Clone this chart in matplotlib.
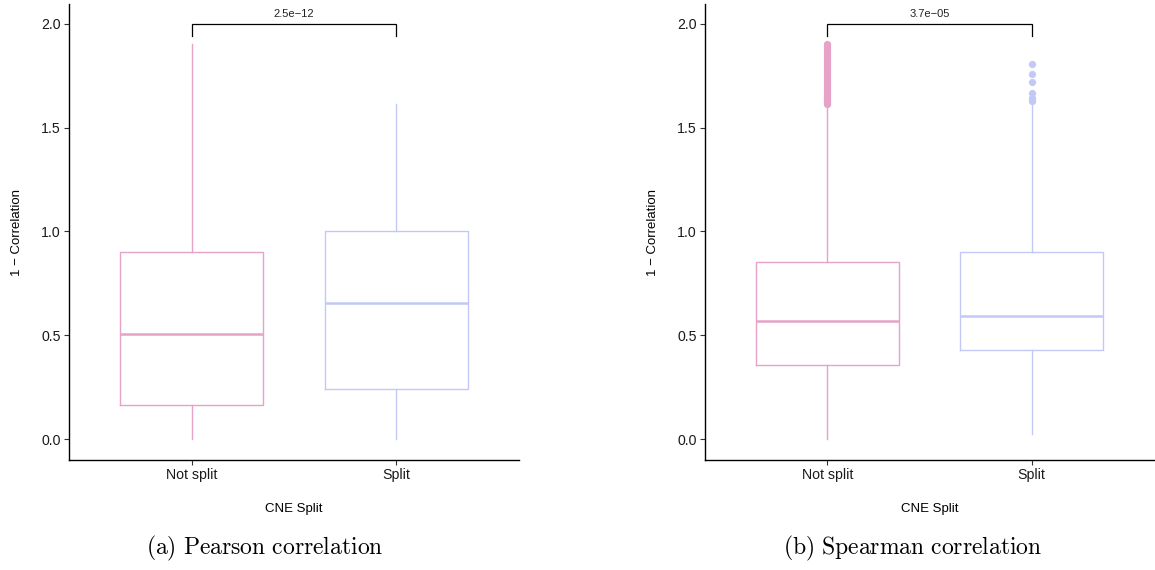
import matplotlib
matplotlib.use("Agg")
import matplotlib.pyplot as plt

plt.rcParams["font.family"] = ["Liberation Sans", "DejaVu Sans"]
plt.rcParams["mathtext.fontset"] = "cm"

categories = ["Not split", "Split"]
colors = ["#E7A2C7", "#C3C9F6"]

# Pearson: 1 - correlation summary per group
pearson_q1 = [0.165, 0.243]
pearson_med = [0.505, 0.655]
pearson_q3 = [0.900, 1.000]
pearson_lo = [0.000, 0.000]
pearson_hi = [1.902, 1.615]
pearson_p = "2.5e\u221212"

# Spearman: 1 - correlation summary per group
spearman_q1 = [0.356, 0.427]
spearman_med = [0.570, 0.593]
spearman_q3 = [0.855, 0.903]
spearman_lo = [0.000, 0.023]
spearman_hi = [1.608, 1.620]
spearman_out_notsplit = [1.612, 1.617, 1.623, 1.629, 1.636, 1.642, 1.650, 1.657,
                         1.663, 1.671, 1.680, 1.688, 1.695, 1.703, 1.712, 1.721,
                         1.729, 1.736, 1.745, 1.754, 1.762, 1.771, 1.779, 1.790,
                         1.798, 1.806, 1.815, 1.826, 1.835, 1.843, 1.852, 1.861,
                         1.872, 1.881, 1.890, 1.898, 1.905]
spearman_out_split = [1.629, 1.637, 1.645, 1.669, 1.722, 1.759, 1.807]
spearman_p = "3.7e\u221205"

fig = plt.figure(figsize=(11.55, 5.70), dpi=100)
ax_a = fig.add_axes([69 / 1155, 1 - 460 / 570, 450 / 1155, 456 / 570])
ax_b = fig.add_axes([705 / 1155, 1 - 460 / 570, 449 / 1155, 456 / 570])


def draw_panel(ax, q1, med, q3, lo, hi, fliers, ptext):
    for i in range(len(categories)):
        st = [dict(med=med[i], q1=q1[i], q3=q3[i], whislo=lo[i], whishi=hi[i],
                   fliers=fliers[i])]
        c = colors[i]
        ax.bxp(st, positions=[i + 1], widths=0.70, showcaps=False,
               boxprops=dict(color=c, linewidth=1.0),
               whiskerprops=dict(color=c, linewidth=1.0),
               medianprops=dict(color=c, linewidth=1.8),
               flierprops=dict(marker="o", markersize=4.2, markerfacecolor=c,
                               markeredgecolor=c, linestyle="none"))
    # significance bracket
    ax.plot([1, 1, 2, 2], [1.94, 2.0, 2.0, 1.94], color="black", lw=0.9,
            solid_joinstyle="miter")
    ax.text(1.5, 2.025, ptext, ha="center", va="bottom", fontsize=8,
            color="#222222")
    ax.set_xlim(0.4, 2.6)
    ax.set_ylim(-0.101, 2.096)
    ax.set_xticks([1, 2])
    ax.set_xticklabels(categories)
    ax.set_yticks([0.0, 0.5, 1.0, 1.5, 2.0])
    ax.set_yticklabels(["0.0", "0.5", "1.0", "1.5", "2.0"])
    ax.tick_params(axis="both", length=3.5, width=0.8, color="#333333",
                   labelsize=10.2, labelcolor="#1a1a1a", pad=2.5)
    for s in ["top", "right"]:
        ax.spines[s].set_visible(False)
    for s in ["left", "bottom"]:
        ax.spines[s].set_linewidth(1.0)
        ax.spines[s].set_color("black")
    ax.set_xlabel("CNE Split", fontsize=9.5, labelpad=15)
    ax.set_ylabel("1 \u2212 Correlation", fontsize=9.5, labelpad=13)


draw_panel(ax_a, pearson_q1, pearson_med, pearson_q3, pearson_lo, pearson_hi,
           [[], []], pearson_p)
draw_panel(ax_b, spearman_q1, spearman_med, spearman_q3, spearman_lo, spearman_hi,
           [spearman_out_notsplit, spearman_out_split], spearman_p)

fig.text(265 / 1155, 1 - 548 / 570, r"$\mathrm{(a)\ Pearson\ correlation}$",
         ha="center", va="center", fontsize=17)
fig.text(913 / 1155, 1 - 548 / 570, r"$\mathrm{(b)\ Spearman\ correlation}$",
         ha="center", va="center", fontsize=17)

fig.savefig("out.png", dpi=100)
